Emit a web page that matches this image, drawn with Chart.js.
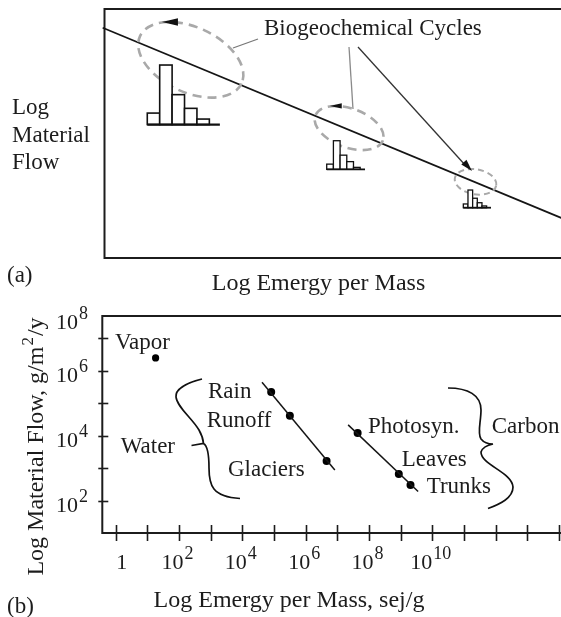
<!DOCTYPE html>
<html>
<head>
<meta charset="utf-8">
<script src="https://cdn.jsdelivr.net/npm/chart.js@4.4.1/dist/chart.umd.min.js"></script>
<style>
  html, body { margin: 0; padding: 0; background: #fff; overflow: hidden; }
  #wrap { position: relative; width: 561px; height: 617px; overflow: hidden; }
  .panel { position: absolute; left: 0; width: 575px; }
</style>
</head>
<body>
<div id="wrap">
  <div class="panel" style="top:0;height:300px"><canvas id="panelA" width="575" height="300"></canvas></div>
  <div class="panel" style="top:300px;height:317px"><canvas id="panelB" width="575" height="317"></canvas></div>
</div>
<script>
// ---- panel (a): conceptual diagram, arbitrary units 0..10 ----
var trendX = [-0.04, 10];
var trendY = [9.25, 1.53];
var cycleX = [1.87, 5.30, 8.04];          // centre of each cycle on the trend
var cycleY = [7.96, 5.22, 3.06];
var histLarge = [0.46, 2.39, 1.20, 0.65, 0.22];
var histMedium = [0.21, 1.15, 0.57, 0.31, 0.08];
var histSmall = [0.15, 0.71, 0.38, 0.20, 0.07];
var histLeft = [0.927, 4.815, 7.775];
var histBase = [5.36, 3.56, 2.02];
var histBarWidth = [0.269, 0.145, 0.101];
var histAxisEnd = [2.50, 5.645, 8.375];

// ---- panel (b): log10 values ----
var flowNames = ['Vapor', 'Rain', 'Runoff', 'Glaciers', 'Photosyn.', 'Leaves', 'Trunks'];
var emergyExp = [1.26, 4.91, 5.50, 6.66, 7.64, 8.94, 9.31];   // sej/g
var flowExp = [6.40, 5.35, 4.62, 3.23, 4.09, 2.83, 2.49];     // g/m2/y
var waterFitX = [4.62, 6.92];
var waterFitY = [5.65, 2.95];
var carbonFitX = [7.34, 9.55];
var carbonFitY = [4.34, 2.29];
var xTickExp = [0, 1, 2, 3, 4, 5, 6, 7, 8, 9, 10, 11, 12, 13, 14];
var xLabelExp = [0, 2, 4, 6, 8, 10];
var yTickExp = [2, 3, 4, 5, 6, 7];
var yLabelExp = [2, 4, 6, 8];

var FONT = '"Liberation Serif", "Times New Roman", serif';
var INK = '#1c1c1c';

function pts(xs, ys) {
  return xs.map(function (x, i) { return { x: x, y: ys[i] }; });
}

function text(ctx, s, x, y, size, align) {
  ctx.font = size + 'px ' + FONT;
  ctx.textAlign = align || 'left';
  ctx.textBaseline = 'alphabetic';
  ctx.fillStyle = INK;
  ctx.fillText(s, x, y);
}

// 10^n label; x is centre (align 'center') or right edge (align 'right')
function powerLabel(ctx, exp, x, y, align) {
  var base = exp === 0 ? '1' : '10';
  var sup = exp === 0 ? '' : String(exp);
  ctx.font = '22px ' + FONT;
  var wb = ctx.measureText(base).width;
  ctx.font = '18px ' + FONT;
  var ws = sup ? ctx.measureText(sup).width : 0;
  var total = wb + ws;
  var left = align === 'right' ? x - total : x - total / 2;
  text(ctx, base, left, y, 22, 'left');
  if (sup) text(ctx, sup, left + wb + 1, y - 10, 18, 'left');
}

function arrowHead(ctx, tipX, tipY, dx, dy, len, half) {
  var n = Math.sqrt(dx * dx + dy * dy);
  var ux = dx / n, uy = dy / n;
  var bx = tipX - ux * len, by = tipY - uy * len;
  ctx.beginPath();
  ctx.moveTo(tipX, tipY);
  ctx.lineTo(bx - uy * half, by + ux * half);
  ctx.lineTo(bx + uy * half, by - ux * half);
  ctx.closePath();
  ctx.fill();
}

function drawBox(ctx, area) {
  ctx.save();
  ctx.strokeStyle = INK;
  ctx.lineWidth = 2;
  ctx.strokeRect(area.left, area.top, area.right - area.left, area.bottom - area.top);
  ctx.restore();
}

var panelAPlugin = {
  id: 'panelA',
  beforeDatasetsDraw: function (chart) {
    drawBox(chart.ctx, chart.chartArea);
  },
  afterDatasetsDraw: function (chart) {
    var ctx = chart.ctx;
    var xs = chart.scales.x, ys = chart.scales.y;
    var ellipses = [
      { a: 56, b: 32.5, tilt: 25, arrowLen: 16, arrowHalf: 3.8 },
      { a: 36, b: 19.5, tilt: 20, arrowLen: 12, arrowHalf: 2.6 },
      { a: 21, b: 12.5, tilt: 10, arrowLen: 0, arrowHalf: 0 }
    ];
    ctx.save();
    // dashed cycles
    cycleX.forEach(function (cxv, i) {
      var e = ellipses[i];
      var cx = xs.getPixelForValue(cxv), cy = ys.getPixelForValue(cycleY[i]);
      var phi = e.tilt * Math.PI / 180;
      ctx.strokeStyle = '#a9a9a9';
      ctx.lineWidth = i === 2 ? 2 : 2.6;
      ctx.setLineDash(i === 2 ? [6, 4] : [9, 6]);
      ctx.beginPath();
      ctx.ellipse(cx, cy, e.a, e.b, phi, 0, Math.PI * 2);
      ctx.stroke();
      ctx.setLineDash([]);
      if (e.arrowLen) {
        // arrow at the top of the ellipse pointing left
        var best = null;
        for (var t = 0; t < Math.PI * 2; t += 0.01) {
          var px = cx + e.a * Math.cos(t) * Math.cos(phi) - e.b * Math.sin(t) * Math.sin(phi);
          var py = cy + e.a * Math.cos(t) * Math.sin(phi) + e.b * Math.sin(t) * Math.cos(phi);
          if (!best || py < best.y) best = { x: px, y: py };
        }
        ctx.fillStyle = '#111';
        arrowHead(ctx, best.x - e.arrowLen / 2, best.y, -1, 0, e.arrowLen, e.arrowHalf);
      }
    });

    // histograms
    [histLarge, histMedium, histSmall].forEach(function (bars, i) {
      var base = ys.getPixelForValue(histBase[i]);
      var x0 = histLeft[i];
      ctx.lineWidth = i === 0 ? 1.6 : 1.3;
      ctx.strokeStyle = '#111';
      ctx.fillStyle = '#fff';
      bars.forEach(function (h, j) {
        var l = xs.getPixelForValue(x0 + j * histBarWidth[i]);
        var r = xs.getPixelForValue(x0 + (j + 1) * histBarWidth[i]);
        var top = ys.getPixelForValue(histBase[i] + h);
        ctx.fillRect(l, top, r - l, base - top);
        ctx.strokeRect(l, top, r - l, base - top);
      });
      ctx.lineWidth = i === 0 ? 2.2 : 1.8;
      ctx.beginPath();
      ctx.moveTo(xs.getPixelForValue(x0), base);
      ctx.lineTo(xs.getPixelForValue(histAxisEnd[i]), base);
      ctx.stroke();
    });

    // leader lines from the caption
    ctx.lineWidth = 1.3;
    ctx.strokeStyle = '#777';
    ctx.beginPath(); ctx.moveTo(233, 48); ctx.lineTo(258, 39); ctx.stroke();
    ctx.strokeStyle = '#8a8a8a';
    ctx.beginPath(); ctx.moveTo(349, 47); ctx.lineTo(353, 109); ctx.stroke();
    ctx.strokeStyle = '#333';
    ctx.beginPath(); ctx.moveTo(358, 47); ctx.lineTo(466, 166); ctx.stroke();
    ctx.fillStyle = '#111';
    arrowHead(ctx, 472, 171, 113, 123, 12, 3.5);

    // texts
    text(ctx, 'Biogeochemical Cycles', 264, 35, 23);
    text(ctx, 'Log', 12, 113.5, 23);
    text(ctx, 'Material', 12, 141.5, 23);
    text(ctx, 'Flow', 12, 168.5, 23);
    text(ctx, '(a)', 7, 282, 23);
    text(ctx, 'Log Emergy per Mass', 318.5, 290, 24, 'center');
    ctx.restore();
  }
};

var panelBPlugin = {
  id: 'panelB',
  beforeDatasetsDraw: function (chart) {
    var ctx = chart.ctx, area = chart.chartArea;
    var xs = chart.scales.x, ys = chart.scales.y;
    drawBox(ctx, area);
    ctx.save();
    ctx.strokeStyle = INK;
    ctx.lineWidth = 1.6;
    xTickExp.forEach(function (e) {
      var x = Math.round(xs.getPixelForValue(e)) + 0.5;
      ctx.beginPath(); ctx.moveTo(x, area.bottom - 8); ctx.lineTo(x, area.bottom + 8); ctx.stroke();
    });
    yTickExp.forEach(function (e) {
      var y = Math.round(ys.getPixelForValue(e)) + 0.5;
      ctx.beginPath(); ctx.moveTo(area.left - 4, y); ctx.lineTo(area.left + 6, y); ctx.stroke();
    });
    ctx.restore();
  },
  afterDatasetsDraw: function (chart) {
    var ctx = chart.ctx, area = chart.chartArea;
    var xs = chart.scales.x, ys = chart.scales.y;
    ctx.save();
    // tick labels
    xLabelExp.forEach(function (e) {
      var x = xs.getPixelForValue(e);
      powerLabel(ctx, e, e === 0 ? x + 6 : x - 2, 269, 'center');
    });
    yLabelExp.forEach(function (e) {
      var y = Math.max(ys.getPixelForValue(e) + 11, area.top + 13);
      powerLabel(ctx, e, 87, y, 'right');
    });

    // braces
    ctx.strokeStyle = '#111';
    ctx.lineWidth = 1.7;
    ctx.beginPath();
    ctx.moveTo(202, 79);
    ctx.bezierCurveTo(190, 82, 175, 88, 176, 97);
    ctx.bezierCurveTo(177, 107, 192, 118, 199, 130);
    ctx.quadraticCurveTo(203, 137, 203.5, 143.5);
    ctx.moveTo(191.5, 145.5);
    ctx.lineTo(203.5, 143.5);
    ctx.bezierCurveTo(208, 146, 209, 155, 209, 168);
    ctx.bezierCurveTo(209, 185, 212, 197, 240, 198.5);
    ctx.stroke();

    ctx.beginPath();
    ctx.moveTo(448, 88);
    ctx.bezierCurveTo(468, 88, 481, 95, 481, 110);
    ctx.bezierCurveTo(481, 122, 477, 133, 481, 139);
    ctx.quadraticCurveTo(485, 144, 493, 144);
    ctx.quadraticCurveTo(483, 146, 481, 152);
    ctx.bezierCurveTo(481, 165, 512, 172, 513, 187);
    ctx.bezierCurveTo(513, 198, 500, 204, 488, 208.5);
    ctx.stroke();

    // point and group labels
    text(ctx, 'Vapor', 115, 49.3, 23);
    text(ctx, 'Water', 120.7, 152.7, 23);
    text(ctx, 'Rain', 208, 98.3, 23);
    text(ctx, 'Runoff', 206.7, 127.3, 23);
    text(ctx, 'Glaciers', 228, 176, 23);
    text(ctx, 'Photosyn.', 368, 133.3, 23);
    text(ctx, 'Leaves', 401.7, 166, 23);
    text(ctx, 'Trunks', 426.7, 192.7, 23);
    text(ctx, 'Carbon', 491.7, 133.3, 23);

    // axis titles
    text(ctx, 'Log Emergy per Mass, sej/g', 289, 307, 24, 'center');
    text(ctx, '(b)', 7, 313, 23);

    ctx.translate(42.5, 147.5);
    ctx.rotate(-Math.PI / 2);
    var partA = 'Log Material Flow, g/m', partSup = '2', partB = '/y';
    ctx.font = '24px ' + FONT;
    var wa = ctx.measureText(partA).width, wb = ctx.measureText(partB).width;
    ctx.font = '17px ' + FONT;
    var wsup = ctx.measureText(partSup).width;
    var start = -(wa + wsup + wb) / 2;
    text(ctx, partA, start, 0, 24);
    text(ctx, partSup, start + wa + 1, -10, 17);
    text(ctx, partB, start + wa + wsup + 2, 0, 24);
    ctx.restore();
  }
};

var baseOptions = function (padding, xr, yr) {
  return {
    responsive: false,
    animation: false,
    events: [],
    layout: { padding: padding },
    scales: {
      x: { type: 'linear', min: xr[0], max: xr[1], display: false },
      y: { type: 'linear', min: yr[0], max: yr[1], display: false }
    },
    plugins: { legend: { display: false }, tooltip: { enabled: false } }
  };
};

new Chart(document.getElementById('panelA'), {
  type: 'scatter',
  data: {
    datasets: [{
      label: 'trend',
      data: pts(trendX, trendY),
      showLine: true,
      borderColor: '#151515',
      borderWidth: 1.7,
      pointRadius: 0,
      clip: false
    }]
  },
  options: baseOptions({ left: 104.5, top: 9, right: 9, bottom: 42 }, [0, 10], [0, 10]),
  plugins: [panelAPlugin]
});

new Chart(document.getElementById('panelB'), {
  type: 'scatter',
  data: {
    datasets: [
      {
        label: 'water',
        data: pts(waterFitX, waterFitY),
        showLine: true,
        borderColor: '#151515',
        borderWidth: 1.5,
        pointRadius: 0
      },
      {
        label: 'carbon',
        data: pts(carbonFitX, carbonFitY),
        showLine: true,
        borderColor: '#151515',
        borderWidth: 1.5,
        pointRadius: 0
      },
      {
        label: 'flows',
        data: pts(emergyExp, flowExp),
        pointRadius: flowNames.map(function (n) { return n === 'Vapor' ? 3.6 : 4; }),
        pointBackgroundColor: '#000',
        pointBorderWidth: 0,
        showLine: false
      }
    ]
  },
  options: baseOptions({ left: 102.3, top: 16, right: 9, bottom: 84 }, [-0.423, 14.22], [1.015, 7.69]),
  plugins: [panelBPlugin]
});
</script>
</body>
</html>
